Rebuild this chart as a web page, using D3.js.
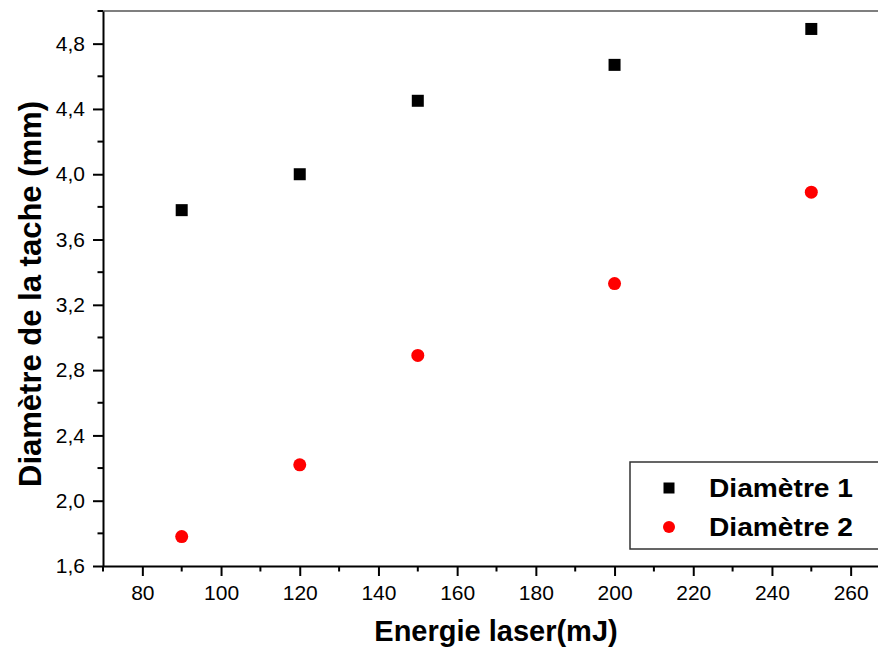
<!DOCTYPE html>
<html><head><meta charset="utf-8">
<script src="https://cdn.jsdelivr.net/npm/d3@7"></script>
<style>body{margin:0;background:#fff}svg{display:block}</style>
</head><body>
<script>
const energies = [90, 120, 150, 200, 250];
const diam1 = [3.78, 4.00, 4.45, 4.67, 4.89];
const diam2 = [1.78, 2.22, 2.89, 3.33, 3.89];
const xTicks = [80, 100, 120, 140, 160, 180, 200, 220, 240, 260];
const yTicks = [1.6, 2.0, 2.4, 2.8, 3.2, 3.6, 4.0, 4.4, 4.8];
const seriesNames = ["Diamètre 1", "Diamètre 2"];

const W = 878, H = 652;
const svg = d3.select("body").append("svg").attr("width", W).attr("height", H);
const font = "'Liberation Sans', Arial, sans-serif";

const x = d3.scaleLinear().domain([70, 270]).range([103, 890]);
const y = d3.scaleLinear().domain([1.6, 5.0]).range([566, 11]);

// top border
svg.append("line").attr("x1", 103).attr("x2", W).attr("y1", 11).attr("y2", 11)
  .attr("stroke", "#555").attr("stroke-width", 1.5);

// minor ticks
const xMinor = d3.range(70, 271, 10).filter(v => !xTicks.includes(v));
svg.append("g").selectAll("line").data(xMinor).join("line")
  .attr("x1", d => x(d)).attr("x2", d => x(d)).attr("y1", 566).attr("y2", 571.5)
  .attr("stroke", "#000").attr("stroke-width", 2);
const yMinor = d3.range(1.8, 5.01, 0.4);
svg.append("g").selectAll("line").data(yMinor).join("line")
  .attr("x1", 97.5).attr("x2", 103).attr("y1", d => y(d)).attr("y2", d => y(d))
  .attr("stroke", "#000").attr("stroke-width", 2);

// x axis
const xAxis = svg.append("g").attr("transform", "translate(0,566)")
  .call(d3.axisBottom(x).tickValues(xTicks).tickSize(10).tickPadding(9).tickSizeOuter(0));
xAxis.select(".domain").attr("stroke-width", 2);
xAxis.selectAll(".tick line").attr("stroke-width", 2);
xAxis.selectAll("text").attr("font-family", font).attr("font-size", 21).attr("fill", "#000");

// y axis
const yAxis = svg.append("g").attr("transform", "translate(103,0)")
  .call(d3.axisLeft(y).tickValues(yTicks).tickSize(10).tickPadding(8).tickSizeOuter(0)
    .tickFormat(d => d3.format(".1f")(d).replace(".", ",")));
yAxis.select(".domain").attr("stroke-width", 2);
yAxis.selectAll(".tick line").attr("stroke-width", 2);
yAxis.selectAll("text").attr("font-family", font).attr("font-size", 21).attr("fill", "#000");

// data
const s = 12;
svg.append("g").selectAll("rect").data(energies.map((e, i) => [e, diam1[i]])).join("rect")
  .attr("x", d => x(d[0]) - s / 2).attr("y", d => y(d[1]) - s / 2)
  .attr("width", s).attr("height", s).attr("fill", "#000");
svg.append("g").selectAll("circle").data(energies.map((e, i) => [e, diam2[i]])).join("circle")
  .attr("cx", d => x(d[0])).attr("cy", d => y(d[1])).attr("r", 6.5).attr("fill", "#ff0000");

// axis titles
svg.append("text").attr("x", 496).attr("y", 641).attr("text-anchor", "middle")
  .attr("font-family", font).attr("font-weight", "bold").attr("font-size", 29)
  .text("Energie laser(mJ)");
svg.append("text").attr("transform", "translate(41,294) rotate(-90)").attr("text-anchor", "middle")
  .attr("font-family", font).attr("font-weight", "bold").attr("font-size", 31)
  .text("Diamètre de la tache (mm)");

// legend
const lg = svg.append("g");
lg.append("rect").attr("x", 630).attr("y", 462).attr("width", 260).attr("height", 87)
  .attr("fill", "#fff").attr("stroke", "#333").attr("stroke-width", 1.5);
lg.append("rect").attr("x", 669 - 5.5).attr("y", 488 - 5.5).attr("width", 11).attr("height", 11).attr("fill", "#000");
lg.append("circle").attr("cx", 669).attr("cy", 527).attr("r", 6).attr("fill", "#ff0000");
lg.selectAll("text").data(seriesNames).join("text")
  .attr("x", 709).attr("y", (d, i) => 497 + i * 39)
  .attr("font-family", font).attr("font-weight", "bold").attr("font-size", 26)
  .attr("textLength", 144).attr("lengthAdjust", "spacingAndGlyphs")
  .text(d => d);
</script>
</body></html>
